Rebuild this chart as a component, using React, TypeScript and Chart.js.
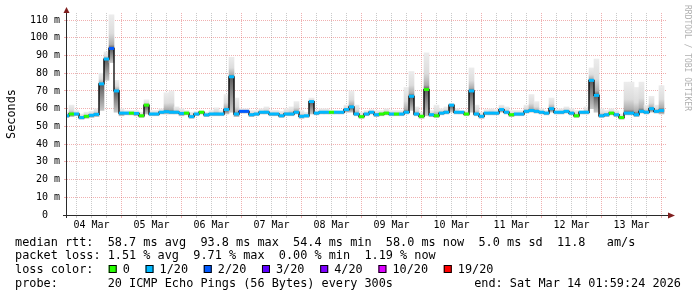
import React, { useEffect, useRef } from "react";
import { Chart, registerables } from "chart.js";

Chart.register(...registerables);

// ---------- data ----------
// time axis unit: hours after 04 Mar 00:00; one sample every 2 hours
const SAMPLE_START_HOUR = 2;
const SAMPLE_STEP_HOURS = 2;
const X_MIN_HOUR = 2.2;
const X_SPAN_HOURS = 240;

const dayLabels = ["04 Mar", "05 Mar", "06 Mar", "07 Mar", "08 Mar", "09 Mar", "10 Mar", "11 Mar", "12 Mar", "13 Mar"];
const yTickValues = [0, 10, 20, 30, 40, 50, 60, 70, 80, 90, 100, 110];
const yTickLabels = ["0  ", "10 m", "20 m", "30 m", "40 m", "50 m", "60 m", "70 m", "80 m", "90 m", "100 m", "110 m"];

// median rtt (ms)
const medianRtt = [
  56.0, 57.0, 57.0, 55.0, 55.7, 56.3, 56.8, 74.0, 88.0, 94.0, 70.0, 57.5, 57.5, 57.5, 57.3, 56.0, 62.0, 57.0, 57.0, 58.0, 58.3, 58.0, 58.0, 57.3,
  57.5, 55.5, 57.0, 58.0, 56.5, 57.0, 57.0, 57.0, 59.5, 78.0, 57.0, 58.5, 58.5, 56.6, 57.0, 58.0, 58.0, 57.0, 57.0, 56.0, 57.0, 57.0, 58.0, 55.7,
  56.0, 64.0, 57.5, 58.0, 58.0, 58.0, 58.0, 58.0, 59.5, 61.0, 57.0, 55.5, 57.0, 58.0, 56.6, 57.0, 57.5, 57.0, 57.0, 57.0, 58.0, 67.0, 57.0, 55.7,
  70.8, 56.6, 56.0, 57.5, 58.0, 62.0, 58.0, 58.0, 57.0, 70.0, 57.0, 55.7, 57.5, 57.5, 57.5, 59.5, 58.0, 56.6, 57.0, 57.0, 58.5, 59.0, 58.5, 58.0,
  57.5, 60.0, 58.0, 58.0, 58.5, 57.5, 56.0, 58.0, 58.0, 76.0, 67.5, 56.0, 56.6, 57.5, 56.6, 55.0, 57.5, 57.5, 56.6, 58.5, 58.0, 60.0, 58.5, 59.0,
];

// smoke: highest ping per sample (ms)
const smokeHigh = [
  58, 62, 59, 57, 58, 58.5, 60, 80, 92, 113, 76, 60, 59, 59, 59, 58, 65, 59, 59, 60, 69, 70, 61, 60,
  59, 58, 58.5, 59, 58, 59, 60.5, 59, 68, 89, 66, 60, 60, 59, 59, 60, 61, 59, 59, 58.5, 60, 61, 64, 59,
  58, 66, 59, 60, 60, 59, 59, 59, 62, 70, 62, 58, 59, 59.5, 59, 59, 60, 59, 59, 59, 72, 81, 61, 58,
  91.5, 59, 62, 60, 61, 63, 60, 59, 59, 83, 62, 58, 59.5, 60, 59.5, 62, 61, 59, 59, 59, 62, 68, 64, 60,
  59, 66, 59.5, 60, 61, 60, 59, 59, 61, 83, 88, 60, 59, 60, 59, 57, 75, 75, 72, 75, 62, 67, 62, 73,
];

// smoke: lowest ping per sample (ms)
const smokeLow = [
  55, 55.5, 56, 54, 54.5, 55, 55.5, 59, 76, 86, 58, 56, 56.5, 56.5, 56, 55, 57, 56, 56, 57, 57, 57, 57, 56,
  56.5, 54.5, 56, 57, 55.5, 56, 56, 56, 57, 58, 55.5, 57.5, 57.5, 55.5, 56, 57, 57, 56, 56, 55, 56, 56, 57, 54.5,
  55, 57, 56.5, 57, 57, 57, 57, 57, 58, 58, 56, 54.5, 56, 57, 55.5, 56, 56.5, 56, 56, 56, 57, 59, 56, 54.5,
  56, 55.5, 55, 56.5, 57, 58, 57, 57, 56, 58, 56, 54.5, 56.5, 56.5, 56.5, 58, 57, 55.5, 56, 56, 57.5, 58, 57.5, 57,
  56.5, 58, 57, 57, 57.5, 56.5, 55, 57, 57, 60, 58, 55, 55.5, 56.5, 55.5, 54, 56.5, 56.5, 55.5, 57.5, 57, 58, 57.5, 57,
];

// lost pings out of 20 per sample
const lossCount = [
  1, 0, 1, 1, 0, 1, 1, 1, 1, 2, 1, 1, 1, 0, 1, 0, 0, 1, 1, 1, 1, 1, 1, 1,
  0, 1, 1, 0, 1, 1, 1, 1, 1, 1, 1, 2, 2, 1, 1, 1, 1, 1, 1, 1, 1, 1, 1, 1,
  1, 1, 1, 1, 1, 0, 1, 1, 1, 1, 1, 0, 1, 1, 1, 0, 0, 1, 0, 1, 1, 1, 1, 0,
  0, 1, 0, 1, 1, 1, 1, 1, 0, 1, 1, 1, 1, 1, 1, 1, 1, 0, 1, 1, 1, 1, 1, 1,
  1, 1, 1, 1, 1, 1, 0, 1, 1, 1, 1, 1, 1, 0, 1, 0, 1, 1, 1, 1, 1, 1, 1, 1,
];

const lossThresholds = [0, 1, 2, 3, 4, 10, 19];
const lossLabels = ["0", "1/20", "2/20", "3/20", "4/20", "10/20", "19/20"];
const lossColors = ["#26ff00", "#00b8ff", "#0059ff", "#5e00ff", "#7e00ff", "#dd00ff", "#ff0000"];

const statLines = [
  "median rtt:  58.7 ms avg  93.8 ms max  54.4 ms min  58.0 ms now  5.0 ms sd  11.8   am/s",
  "packet loss: 1.51 % avg  9.71 % max  0.00 % min  1.19 % now",
];
const lossLegendTitle = "loss color:";
const probeText = "probe:       20 ICMP Echo Pings (56 Bytes) every 300s";
const endText = "end: Sat Mar 14 01:59:24 2026";
const yAxisTitle = "Seconds";
const watermark = "RRDTOOL / TOBI OETIKER";

// ---------- styling ----------
const WIDTH = 697;
const HEIGHT = 297;
const PLOT_LEFT = 67;
const PLOT_TOP = 13;
const PLOT_RIGHT = 667;
const PLOT_BOTTOM = 215;
const MONO = '"DejaVu Sans Mono", monospace';
const GRID = "rgba(150,150,150,0.5)";
const MGRID = "rgba(222,79,79,0.45)";
const AXIS = "#2a2a2a";
const ARROW = "#801f1f";

const sampleHour = (i: number) => SAMPLE_START_HOUR + i * SAMPLE_STEP_HOURS;

const lossColor = (n: number) => {
  let c = lossColors[0];
  for (let k = 0; k < lossThresholds.length; k++) if (n >= lossThresholds[k]) c = lossColors[k];
  return c;
};

const smokeFill = (c: any) => {
  const chart = c.chart;
  const ys = chart.scales && chart.scales.y;
  if (!ys || c.type !== "data") return "#cccccc";
  const i = c.dataIndex;
  const yHi = ys.getPixelForValue(smokeHigh[i]);
  const yLo = ys.getPixelForValue(smokeLow[i]);
  const yMed = ys.getPixelForValue(medianRtt[i]);
  if (!Number.isFinite(yHi) || !Number.isFinite(yLo) || !Number.isFinite(yMed)) return "#cccccc";
  if (yLo - yHi < 2) return "#c8c8c8";
  let m = (yMed - yHi) / (yLo - yHi);
  m = Math.min(0.98, Math.max(0.02, m));
  const g = chart.ctx.createLinearGradient(0, yHi, 0, yLo);
  g.addColorStop(0, "#ececec");
  g.addColorStop(m * 0.55, "#dcdcdc");
  g.addColorStop(m * 0.88, "#adadad");
  g.addColorStop(m, "#5a5a5a");
  g.addColorStop(1, "#c6c6c6");
  return g;
};

const decorPlugin = {
  id: "smokepingDecor",
  afterDraw(chart: any) {
    const ctx = chart.ctx as CanvasRenderingContext2D;
    const a = chart.chartArea;
    ctx.save();
    // axes
    ctx.strokeStyle = AXIS;
    ctx.lineWidth = 1;
    ctx.beginPath();
    ctx.moveTo(a.left - 0.5, a.top - 1);
    ctx.lineTo(a.left - 0.5, a.bottom + 3);
    ctx.moveTo(a.left - 4, a.bottom + 0.5);
    ctx.lineTo(a.right + 2, a.bottom + 0.5);
    ctx.stroke();
    // arrows
    ctx.fillStyle = ARROW;
    ctx.beginPath();
    ctx.moveTo(a.left - 0.5, a.top - 6);
    ctx.lineTo(a.left - 3.5, a.top);
    ctx.lineTo(a.left + 2.5, a.top);
    ctx.closePath();
    ctx.fill();
    ctx.beginPath();
    ctx.moveTo(a.right + 8, a.bottom + 0.5);
    ctx.lineTo(a.right + 1, a.bottom - 2.5);
    ctx.lineTo(a.right + 1, a.bottom + 3.5);
    ctx.closePath();
    ctx.fill();

    // y-axis title
    ctx.fillStyle = "#000";
    ctx.font = `11.85px ${MONO}`;
    ctx.textBaseline = "alphabetic";
    ctx.save();
    ctx.translate(15, (a.top + a.bottom) / 2);
    ctx.rotate(-Math.PI / 2);
    ctx.textAlign = "center";
    ctx.fillText(yAxisTitle, 0, 0);
    ctx.restore();

    // watermark
    ctx.save();
    ctx.fillStyle = "#b0b0b0";
    ctx.font = `8px ${MONO}`;
    ctx.translate(685, 5);
    ctx.rotate(Math.PI / 2);
    ctx.textAlign = "left";
    ctx.fillText(watermark, 0, 0);
    ctx.restore();

    // legend
    const x0 = 15;
    const cw = ctx.measureText("0").width;
    ctx.textAlign = "left";
    const baselines = [246, 259, 273, 287];
    ctx.fillText(statLines[0], x0, baselines[0]);
    ctx.fillText(statLines[1], x0, baselines[1]);
    ctx.fillText(lossLegendTitle, x0, baselines[2]);
    let bx = x0 + 13 * cw + 1;
    for (let k = 0; k < lossLabels.length; k++) {
      ctx.fillStyle = lossColors[k];
      ctx.fillRect(bx, baselines[2] - 8, 8, 8);
      ctx.strokeStyle = "#000";
      ctx.strokeRect(bx + 0.5, baselines[2] - 7.5, 7, 7);
      ctx.fillStyle = "#000";
      const tx = bx + 14;
      ctx.fillText(lossLabels[k], tx, baselines[2]);
      bx = tx + ctx.measureText(lossLabels[k]).width + 15.7;
    }
    ctx.fillText(probeText, x0, baselines[3]);
    ctx.textAlign = "right";
    ctx.fillText(endText, 681, baselines[3]);
    ctx.restore();
  },
};

export default function App() {
  const ref = useRef<HTMLCanvasElement>(null);

  useEffect(() => {
    const canvas = ref.current;
    if (!canvas) return;

    const points = medianRtt.map((v, i) => ({ x: sampleHour(i), y: v }));
    const smoke = medianRtt.map((_, i) => ({ x: sampleHour(i), y: [smokeLow[i], smokeHigh[i]] }));

    const xGridHours: number[] = [];
    for (let h = 6; h <= X_MIN_HOUR + X_SPAN_HOURS; h += 6) if (h > X_MIN_HOUR) xGridHours.push(h);
    const yGridValues: number[] = [];
    for (let v = 0; v <= 110; v += 5) yGridValues.push(v);

    const chart = new Chart(canvas, {
      type: "line",
      data: {
        datasets: [
          {
            type: "line",
            data: points,
            showLine: false,
            pointStyle: "line",
            pointRadius: 2.6,
            pointHoverRadius: 2.6,
            pointBorderWidth: 3,
            pointHoverBorderWidth: 3,
            pointBorderColor: (c: any) => lossColor(lossCount[c.dataIndex] ?? 0),
            order: 1,
          } as any,
          {
            type: "line",
            data: points,
            borderColor: "#000",
            borderWidth: 1.3,
            stepped: "middle",
            pointRadius: 0,
            fill: false,
            order: 2,
          } as any,
          {
            type: "bar",
            data: smoke,
            backgroundColor: smokeFill,
            borderWidth: 0,
            barPercentage: 1,
            categoryPercentage: 1,
            grouped: false,
            order: 3,
          } as any,
        ],
      },
      options: {
        responsive: false,
        devicePixelRatio: 1,
        animation: false,
        events: [],
        layout: { padding: { left: 0, top: PLOT_TOP, right: WIDTH - PLOT_RIGHT, bottom: 0 } },
        plugins: { legend: { display: false }, tooltip: { enabled: false }, title: { display: false } },
        scales: {
          x: {
            type: "linear",
            min: X_MIN_HOUR,
            max: X_MIN_HOUR + X_SPAN_HOURS,
            offset: false,
            afterBuildTicks: (s: any) => {
              s.ticks = xGridHours.map((v) => ({ value: v }));
            },
            afterFit: (s: any) => {
              s.height = HEIGHT - PLOT_BOTTOM;
            },
            grid: {
              offset: false,
              color: (c: any) => (c.tick && c.tick.value % 24 === 0 ? MGRID : GRID),
              tickColor: (c: any) => (c.tick && c.tick.value % 24 === 0 ? MGRID : GRID),
              lineWidth: 1,
              drawTicks: true,
              tickLength: 3,
            },
            border: { display: false, dash: [1, 1] },
            ticks: {
              autoSkip: false,
              maxRotation: 0,
              minRotation: 0,
              padding: 1,
              color: "#000",
              font: { family: MONO, size: 10 },
              callback: (v: any) => {
                const n = Number(v);
                if (n % 24 !== 12) return "";
                const idx = (n - 12) / 24;
                return dayLabels[idx] ?? "";
              },
            },
          },
          y: {
            type: "linear",
            min: 0,
            max: 114,
            afterBuildTicks: (s: any) => {
              s.ticks = yGridValues.map((v) => ({ value: v }));
            },
            afterFit: (s: any) => {
              s.width = PLOT_LEFT;
            },
            grid: {
              color: (c: any) => (c.tick && c.tick.value % 10 === 0 ? MGRID : GRID),
              tickColor: (c: any) => (c.tick && c.tick.value % 10 === 0 ? MGRID : GRID),
              lineWidth: 1,
              drawTicks: true,
              tickLength: 3,
            },
            border: { display: false, dash: [1, 1] },
            ticks: {
              padding: 4,
              color: "#000",
              font: { family: MONO, size: 10 },
              callback: (v: any) => {
                const idx = yTickValues.indexOf(Number(v));
                return idx >= 0 ? yTickLabels[idx] : "";
              },
            },
          },
        },
      } as any,
      plugins: [decorPlugin],
    });

    return () => chart.destroy();
  }, []);

  return (
    <div style={{ position: "absolute", left: 0, top: 0, width: WIDTH, height: HEIGHT, background: "#fff" }}>
      <canvas ref={ref} width={WIDTH} height={HEIGHT} style={{ display: "block", width: WIDTH, height: HEIGHT }} />
    </div>
  );
}
